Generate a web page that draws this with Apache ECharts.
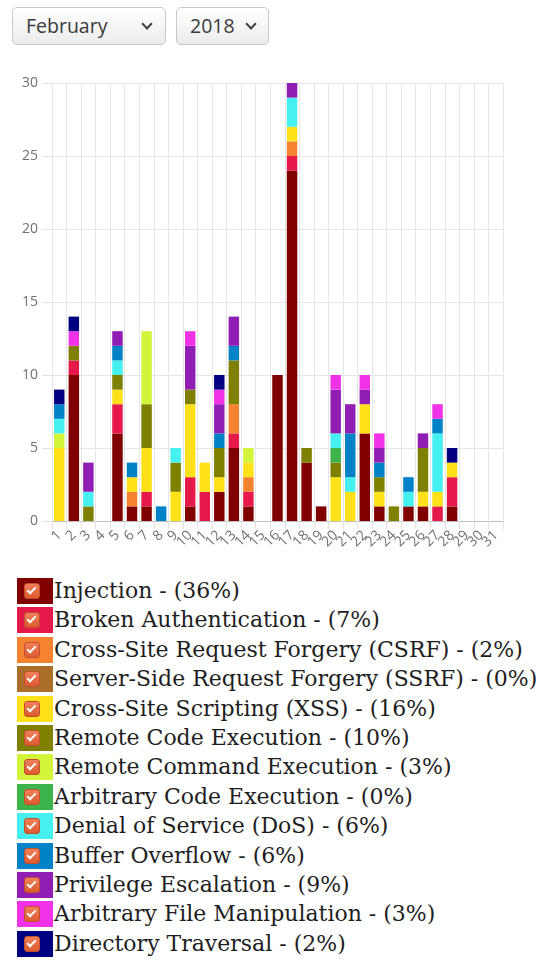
<!DOCTYPE html>
<html>
<head>
<meta charset="utf-8">
<script src="https://cdn.jsdelivr.net/npm/echarts@6/dist/echarts.min.js"></script>
<style>
    body { margin: 0; background: #fff; width: 548px; height: 960px; overflow: hidden; position: relative; }
    .sel { position: absolute; top: 7px; height: 38px; border: 1px solid #c9c9c9; border-radius: 5px;
        background: linear-gradient(#ffffff, #ececec); box-sizing: border-box;
        font: 19.5px 'Open Sans', sans-serif; color: #3a3a3a; line-height: 35px; padding-left: 13px; }
    .sel .chev { position: absolute; top: 12px; width: 6px; height: 6px; border-right: 2.5px solid #444;
        border-bottom: 2.5px solid #444; transform: rotate(45deg); }
    #chart { position: absolute; left: 0; top: 0; width: 548px; height: 565px; }
    #legend { position: absolute; left: 17px; top: 578px; }
    .row { position: relative; height: 26px; margin-bottom: 3.4px; }
    .sw { position: absolute; left: 0; top: 0; width: 36px; height: 26px; }
    .cb { position: absolute; left: 7px; top: 5px; width: 14px; height: 14px; border-radius: 3px;
        background: linear-gradient(#f0805a, #dc5a30); border: 1px solid #c0502a; }
    .cb:after { content: ''; position: absolute; left: 4px; top: 1px; width: 3px; height: 7px;
        border-right: 2px solid #fff; border-bottom: 2px solid #fff; transform: rotate(45deg); }
    .txt { position: absolute; left: 37px; top: 0; white-space: nowrap; font: 22px 'DejaVu Serif', serif;
        color: #1e1e1e; line-height: 26px; }
</style>
</head>
<body>
<div class="sel" style="left:12px;width:154px;">February<span class="chev" style="left:130px;"></span></div>
<div class="sel" style="left:176px;width:93px;">2018<span class="chev" style="left:70px;"></span></div>
<div id="chart"></div>
<div id="legend"></div>
<script>
const days = ['1', '2', '3', '4', '5', '6', '7', '8', '9', '10', '11', '12', '13', '14', '15', '16',
    '17', '18', '19', '20', '21', '22', '23', '24', '25', '26', '27', '28', '29', '30', '31'];

const injection      = [0, 10, 0, 0, 6, 1, 1, 0, 0, 1, 0, 2, 5, 1, 0, 10, 24, 4, 1, 0, 0, 6, 1, 0, 1, 1, 0, 1, 0, 0, 0];
const brokenAuth     = [0, 1, 0, 0, 2, 0, 1, 0, 0, 2, 2, 0, 1, 1, 0, 0, 1, 0, 0, 0, 0, 0, 0, 0, 0, 0, 1, 2, 0, 0, 0];
const csrf           = [0, 0, 0, 0, 0, 1, 0, 0, 0, 0, 0, 0, 2, 1, 0, 0, 1, 0, 0, 0, 0, 0, 0, 0, 0, 0, 0, 0, 0, 0, 0];
const ssrf           = [0, 0, 0, 0, 0, 0, 0, 0, 0, 0, 0, 0, 0, 0, 0, 0, 0, 0, 0, 0, 0, 0, 0, 0, 0, 0, 0, 0, 0, 0, 0];
const xss            = [5, 0, 0, 0, 1, 1, 3, 0, 2, 5, 2, 1, 0, 1, 0, 0, 1, 0, 0, 3, 2, 2, 1, 0, 0, 1, 1, 1, 0, 0, 0];
const rce            = [0, 1, 1, 0, 1, 0, 3, 0, 2, 1, 0, 2, 3, 0, 0, 0, 0, 1, 0, 1, 0, 0, 1, 1, 0, 3, 0, 0, 0, 0, 0];
const remoteCmd      = [1, 0, 0, 0, 0, 0, 5, 0, 0, 0, 0, 0, 0, 1, 0, 0, 0, 0, 0, 0, 0, 0, 0, 0, 0, 0, 0, 0, 0, 0, 0];
const arbitraryCode  = [0, 0, 0, 0, 0, 0, 0, 0, 0, 0, 0, 0, 0, 0, 0, 0, 0, 0, 0, 1, 0, 0, 0, 0, 0, 0, 0, 0, 0, 0, 0];
const dos            = [1, 0, 1, 0, 1, 0, 0, 0, 1, 0, 0, 0, 0, 0, 0, 0, 2, 0, 0, 1, 1, 0, 0, 0, 1, 0, 4, 0, 0, 0, 0];
const bufferOverflow = [1, 0, 0, 0, 1, 1, 0, 1, 0, 0, 0, 1, 1, 0, 0, 0, 0, 0, 0, 0, 3, 0, 1, 0, 1, 0, 1, 0, 0, 0, 0];
const privEscalation = [0, 0, 2, 0, 1, 0, 0, 0, 0, 3, 0, 2, 2, 0, 0, 0, 1, 0, 0, 3, 2, 1, 1, 0, 0, 1, 0, 0, 0, 0, 0];
const fileManip      = [0, 1, 0, 0, 0, 0, 0, 0, 0, 1, 0, 1, 0, 0, 0, 0, 0, 0, 0, 1, 0, 1, 1, 0, 0, 0, 1, 0, 0, 0, 0];
const dirTraversal   = [1, 1, 0, 0, 0, 0, 0, 0, 0, 0, 0, 1, 0, 0, 0, 0, 0, 0, 0, 0, 0, 0, 0, 0, 0, 0, 0, 1, 0, 0, 0];

const categories = [
    ['Injection', '#800000', injection],
    ['Broken Authentication', '#e6194b', brokenAuth],
    ['Cross-Site Request Forgery (CSRF)', '#f58231', csrf],
    ['Server-Side Request Forgery (SSRF)', '#aa6e28', ssrf],
    ['Cross-Site Scripting (XSS)', '#ffe119', xss],
    ['Remote Code Execution', '#808000', rce],
    ['Remote Command Execution', '#d2f53c', remoteCmd],
    ['Arbitrary Code Execution', '#3cb44b', arbitraryCode],
    ['Denial of Service (DoS)', '#46f0f0', dos],
    ['Buffer Overflow', '#0082c8', bufferOverflow],
    ['Privilege Escalation', '#911eb4', privEscalation],
    ['Arbitrary File Manipulation', '#f032e6', fileManip],
    ['Directory Traversal', '#000080', dirTraversal]
];

const yTicks = [0, 5, 10, 15, 20, 25, 30];

const sum = arr => arr.reduce((a, b) => a + b, 0);
const total = sum(categories.map(c => sum(c[2])));

const chart = echarts.init(document.getElementById('chart'));
chart.setOption({
    animation: false,
    grid: {
        left: 52,
        top: 83,
        width: 451,
        height: 438,
        containLabel: false,
        outerBoundsMode: 'none'
    },
    xAxis: {
        type: 'category',
        data: days,
        axisLine: { lineStyle: { color: '#bdbdbd' } },
        axisTick: { show: true, interval: 0, length: 8, lineStyle: { color: '#e2e2e2' } },
        axisLabel: {
            interval: 0,
            rotate: 45,
            margin: 12,
            fontFamily: 'Open Sans',
            fontSize: 14,
            color: '#707070'
        },
        splitLine: { show: true, interval: 0, lineStyle: { color: '#e6e6e6' } }
    },
    yAxis: {
        type: 'value',
        min: yTicks[0],
        max: yTicks[yTicks.length - 1],
        interval: 5,
        axisLine: { show: true, lineStyle: { color: '#e6e6e6' } },
        axisTick: { show: true, length: 10, lineStyle: { color: '#e2e2e2' } },
        axisLabel: {
            margin: 14,
            fontFamily: 'Open Sans',
            fontSize: 14,
            color: '#707070'
        },
        splitLine: { lineStyle: { color: '#e6e6e6' } }
    },
    series: categories.map(([name, color, data]) => ({
        name: name,
        type: 'bar',
        stack: 'total',
        barWidth: '72%',
        itemStyle: { color: color },
        data: data
    }))
});

// html legend, like the original page
const legend = document.getElementById('legend');
categories.forEach(([name, color, data]) => {
    const pct = Math.round(sum(data) / total * 100);
    const row = document.createElement('div');
    row.className = 'row';
    row.innerHTML = `<span class="sw" style="background:${color}"><span class="cb"></span></span>` +
        `<span class="txt">${name} - (${pct}%)</span>`;
    legend.appendChild(row);
});
</script>
</body>
</html>
